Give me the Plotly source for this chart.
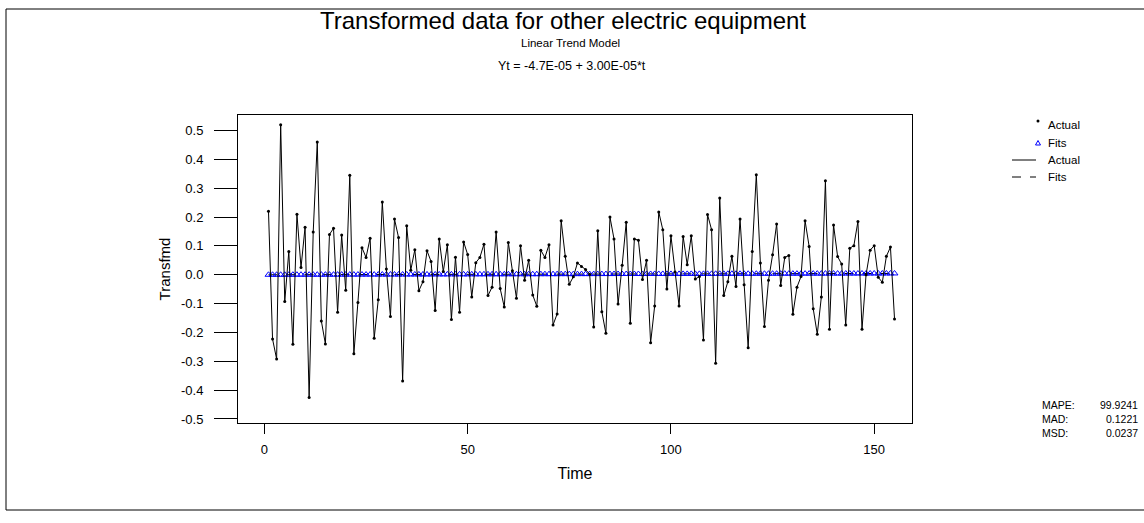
import plotly.graph_objects as go

# ---------------- data ----------------
time_index = list(range(1, 156))
actual = [
    0.220, -0.223, -0.292, 0.520, -0.093, 0.081, -0.241, 0.210, 0.025, 0.165,
    -0.426, 0.148, 0.460, -0.160, -0.240, 0.140, 0.161, -0.130, 0.138, -0.054,
    0.345, -0.274, -0.096, 0.094, 0.060, 0.127, -0.220, -0.087, 0.252, 0.020,
    -0.145, 0.193, 0.129, -0.368, 0.170, 0.016, 0.087, -0.055, -0.024, 0.083,
    0.046, -0.124, 0.124, 0.011, 0.104, -0.155, 0.061, -0.130, 0.114, 0.070,
    -0.077, 0.042, 0.060, 0.106, -0.072, -0.043, 0.148, -0.048, -0.112, 0.112,
    0.014, -0.081, 0.101, -0.019, 0.050, -0.070, -0.109, 0.085, 0.060, 0.104,
    -0.174, -0.136, 0.187, 0.064, -0.033, -0.007, 0.041, 0.029, 0.018, 0.002,
    -0.181, 0.153, -0.128, -0.203, 0.200, 0.124, -0.101, 0.033, 0.182, -0.168,
    0.124, 0.120, -0.016, 0.050, -0.236, -0.108, 0.218, 0.156, -0.049, 0.135,
    0.010, -0.108, 0.133, 0.035, 0.135, -0.015, -0.006, -0.226, 0.209, 0.156,
    -0.307, 0.266, -0.072, -0.024, 0.064, -0.041, 0.193, -0.035, -0.253, 0.081,
    0.347, 0.041, -0.179, -0.019, 0.069, 0.176, -0.037, 0.060, 0.067, -0.137,
    -0.043, -0.006, 0.187, 0.098, -0.118, -0.206, -0.077, 0.326, -0.189, 0.173,
    0.063, 0.037, -0.174, 0.092, 0.101, 0.185, -0.189, 0.000, 0.085, 0.101,
    -0.009, -0.026, 0.064, 0.096, -0.153,
]
trend_intercept = -4.7e-05
trend_slope = 3.00e-05
fits = [trend_intercept + trend_slope * t for t in time_index]

x_ticks = [0, 50, 100, 150]
y_ticks = [-0.5, -0.4, -0.3, -0.2, -0.1, 0.0, 0.1, 0.2, 0.3, 0.4, 0.5]
stat_names = ["MAPE:", "MAD:", "MSD:"]
stat_values = ["99.9241", "0.1221", "0.0237"]
legend_labels = ["Actual", "Fits", "Actual", "Fits"]

# ---------------- layout helpers ----------------
W, H = 1144, 523
PL, PR, PT, PB = 238, 912, 115, 423          # plot frame in pixels
FONT = "Liberation Sans, Arial, sans-serif"
BLUE = "#0000ff"


def px(x):
    return (x - PL) / (PR - PL)


def py(y):
    return (PB - y) / (PB - PT)


fig = go.Figure()

fig.add_trace(go.Scatter(
    x=time_index, y=fits, mode="lines",
    line=dict(color="black", width=1, dash="dash"),
    showlegend=False, hoverinfo="skip"))
fig.add_trace(go.Scatter(
    x=time_index, y=fits, mode="markers",
    marker=dict(symbol="triangle-up-open", size=6, color=BLUE,
                line=dict(width=1, color=BLUE)),
    showlegend=False))
fig.add_trace(go.Scatter(
    x=time_index, y=actual, mode="lines",
    line=dict(color="black", width=1),
    showlegend=False, hoverinfo="skip"))
fig.add_trace(go.Scatter(
    x=time_index, y=actual, mode="markers",
    marker=dict(symbol="circle", size=3, color="black"),
    showlegend=False))

annotations = []
shapes = []


def text(t, x, y, size, anchor="center"):
    annotations.append(dict(text=t, x=px(x), y=py(y), xref="paper", yref="paper",
                            showarrow=False, xanchor=anchor, yanchor="middle",
                            font=dict(size=size, color="black", family=FONT)))


# titles
text("Transformed data for other electric equipment", 563, 21, 24)
text("Linear Trend Model", 570, 43, 11.5)
text("Yt = -4.7E-05 + 3.00E-05*t", 572, 66, 12.5)

# legend (custom, to mimic the reference)
leg_y = [125, 143, 160, 177]
for lbl, yy in zip(legend_labels, leg_y):
    text(lbl, 1046, yy, 11.5, "left")
shapes.append(dict(type="circle", xref="paper", yref="paper",
                   x0=px(1036.5), x1=px(1039.5), y0=py(122.5), y1=py(119.5),
                   fillcolor="black", line=dict(color="black", width=0)))
shapes.append(dict(type="path", xref="paper", yref="paper",
                   path="M {} {} L {} {} L {} {} Z".format(
                       px(1035.5), py(145), px(1040.5), py(145), px(1038), py(140.5)),
                   line=dict(color=BLUE, width=1)))
shapes.append(dict(type="line", xref="paper", yref="paper",
                   x0=px(1012), x1=px(1036), y0=py(160), y1=py(160),
                   line=dict(color="black", width=1)))
shapes.append(dict(type="line", xref="paper", yref="paper",
                   x0=px(1012), x1=px(1036), y0=py(177), y1=py(177),
                   line=dict(color="black", width=1, dash="dash")))

# statistics
for i, (nm, val) in enumerate(zip(stat_names, stat_values)):
    yy = 405 + 14 * i
    text(nm, 1040, yy, 10.5, "left")
    text(val, 1140, yy, 10.5, "right")

# outer frame
shapes.append(dict(type="rect", xref="paper", yref="paper",
                   x0=px(6), x1=px(1160), y0=py(9), y1=py(510),
                   line=dict(color="black", width=1), fillcolor="rgba(0,0,0,0)"))

fig.update_layout(
    width=W, height=H,
    margin=dict(l=PL, r=W - PR, t=PT, b=H - PB, pad=0),
    paper_bgcolor="white", plot_bgcolor="white",
    font=dict(family=FONT, color="black"),
    annotations=annotations, shapes=shapes,
    showlegend=False,
)
fig.update_xaxes(
    range=[-6.5, 159.3], tickvals=x_ticks, ticktext=[str(v) for v in x_ticks],
    ticks="outside", ticklen=10, tickcolor="black", tickwidth=1,
    ticklabelstandoff=4,
    showline=True, linecolor="black", linewidth=1, mirror=True,
    showgrid=False, zeroline=False,
    tickfont=dict(size=13, family=FONT, color="black"),
    title=dict(text="Time", font=dict(size=16, family=FONT, color="black"), standoff=12),
)
fig.update_yaxes(
    range=[-0.514, 0.554], tickvals=y_ticks, ticktext=["%.1f" % v for v in y_ticks],
    ticks="outside", ticklen=23, tickcolor="black", tickwidth=1,
    ticklabelstandoff=8,
    showline=True, linecolor="black", linewidth=1, mirror=True,
    showgrid=False, zeroline=False,
    tickfont=dict(size=13, family=FONT, color="black"),
    title=dict(text="Transfmd", font=dict(size=15, family=FONT, color="black"), standoff=6),
)

# remove the default 8px page margin so pixel positions match the picture
fig.write_html("out.html", config={"displayModeBar": False},
               post_script="document.body.style.margin='0px';")
